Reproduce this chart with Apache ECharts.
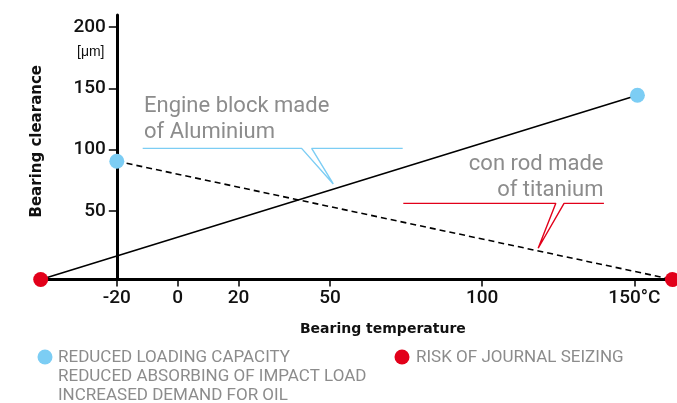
<!DOCTYPE html>
<html><head><meta charset="utf-8">
<script src="https://cdn.jsdelivr.net/npm/echarts@6/dist/echarts.min.js"></script>
<style>html,body{margin:0;padding:0;background:#fff}#c{width:677px;height:403px}</style>
</head><body><div id="c"></div>
<script>
// ---- data ----
const xTicks = [-20, 0, 20, 50, 100, 150];
const xTickLabels = ['-20', '0', '20', '50', '100', '150°C'];
const yTicks = [50, 100, 150, 200];
const yTickLabels = ['50', '100', '150', '200'];
const aluminiumLine = [[-45, -6], [151, 144.5]];
const titaniumLine = [[-20, 90.6], [162.5, -6]];
const bluePoints = [[-20, 90.6], [151, 144.5]];
const redPoints = [[-45, -6], [162.5, -6]];
const aluCallout = [[-11.5, 101.1], [40.7, 101.1], [51.1, 72], [44, 101.1], [73.9, 101.1]];
const tiCallout = [[74.1, 56.2], [124.2, 56.2], [118.4, 19.5], [126.9, 56.2], [140, 56.2]];
const aluText = 'Engine block made\nof Aluminium';
const tiText = 'con rod made\nof titanium';
const legendBlue = 'REDUCED LOADING CAPACITY\nREDUCED ABSORBING OF IMPACT LOAD\nINCREASED DEMAND FOR OIL';
const legendRed = 'RISK OF JOURNAL SEIZING';
const xName = 'Bearing temperature';
const yName = 'Bearing clearance';
const yUnit = '[μm]';

const BLUE = '#7ccdf4', RED = '#e2001a', GRAY = '#8c8c8c';
const chart = echarts.init(document.getElementById('c'));
const tickFont = {fontFamily: 'Roboto', fontWeight: 500, fontSize: 19, color: '#111'};
chart.setOption({
  animation: false,
  grid: {left: 40.7, right: 0, top: 15, bottom: 123.5},
  xAxis: {
    type: 'value', min: -45, max: 164,
    name: xName, nameLocation: 'middle', nameGap: 43,
    nameTextStyle: {fontFamily: 'DejaVu Sans', fontWeight: 'bold', fontSize: 14, color: '#111', padding: [0, 0, 0, 48]},
    axisLine: {onZero: false, lineStyle: {color: '#000', width: 3}},
    axisTick: {show: true, length: 7, lineStyle: {color: '#000', width: 1.5}, customValues: xTicks},
    axisLabel: Object.assign({margin: 9, customValues: xTicks,
      formatter: v => xTickLabels[xTicks.indexOf(v)]}, tickFont),
    splitLine: {show: false}
  },
  yAxis: {
    type: 'value', min: -6, max: 210, offset: -76.1,
    name: yName, nameLocation: 'middle', nameGap: 72, nameRotate: 90,
    nameTextStyle: {fontFamily: 'DejaVu Sans', fontWeight: 'bold', fontSize: 15, color: '#111', padding: [0, 0, 0, 12]},
    axisLine: {onZero: false, lineStyle: {color: '#000', width: 3}},
    axisTick: {show: true, length: 8, lineStyle: {color: '#000', width: 1.5}, customValues: yTicks},
    axisLabel: Object.assign({margin: 11, customValues: yTicks,
      formatter: v => yTickLabels[yTicks.indexOf(v)]}, tickFont),
    splitLine: {show: false}
  },
  series: [
    {type: 'line', data: aluminiumLine, symbol: 'none', clip: false,
     lineStyle: {color: '#000', width: 1.6}, z: 2},
    {type: 'line', data: titaniumLine, symbol: 'none', clip: false,
     lineStyle: {color: '#000', width: 1.6, type: [6, 4]}, z: 2},
    {type: 'line', data: aluCallout, symbol: 'none', clip: false,
     lineStyle: {color: BLUE, width: 1.4}, z: 1},
    {type: 'line', data: tiCallout, symbol: 'none', clip: false,
     lineStyle: {color: RED, width: 1.4}, z: 1},
    {type: 'scatter', data: bluePoints, symbolSize: 15, clip: false,
     itemStyle: {color: BLUE, opacity: 1}, z: 5},
    {type: 'scatter', data: redPoints, symbolSize: 15, clip: false,
     itemStyle: {color: RED, opacity: 1}, z: 5}
  ],
  graphic: [
    {type: 'text', left: 77, top: 45, style: {text: yUnit, fontFamily: 'Liberation Sans', fontSize: 14, fill: '#111'}},
    {type: 'text', x: 144, y: 93, style: {text: aluText, fontFamily: 'Roboto', fontSize: 22, lineHeight: 26, fill: GRAY, textAlign: 'left', textVerticalAlign: 'top'}},
    {type: 'text', x: 603.5, y: 151.5, style: {text: tiText, fontFamily: 'Roboto', fontSize: 22, lineHeight: 26, fill: GRAY, textAlign: 'right', textVerticalAlign: 'top'}},
    {type: 'circle', shape: {cx: 45, cy: 357, r: 7.5}, style: {fill: BLUE}},
    {type: 'text', x: 58, y: 348, style: {text: legendBlue, fontFamily: 'Roboto', fontSize: 17, lineHeight: 19, fill: GRAY, textVerticalAlign: 'top'}},
    {type: 'circle', shape: {cx: 402, cy: 357, r: 7.5}, style: {fill: RED}},
    {type: 'text', x: 416, y: 348, style: {text: legendRed, fontFamily: 'Roboto', fontSize: 17, lineHeight: 19, fill: GRAY, textVerticalAlign: 'top'}}
  ]
});
</script></body></html>
